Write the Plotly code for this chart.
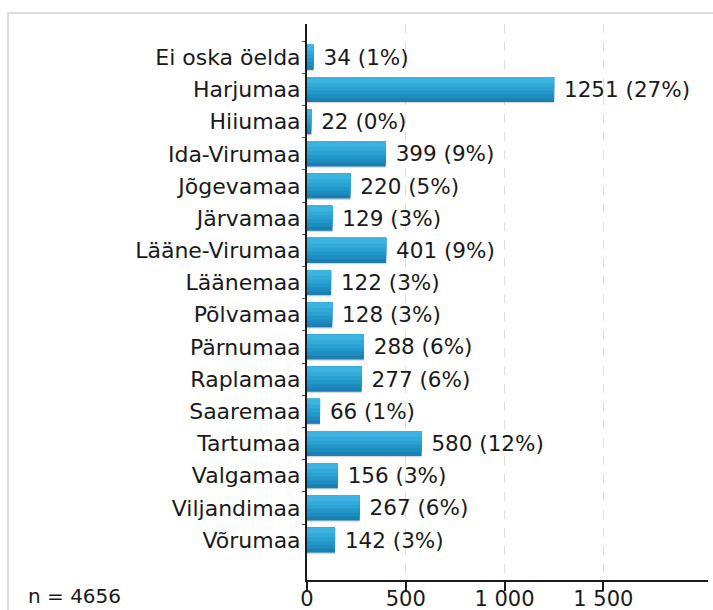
import plotly.graph_objects as go

categories = ["Ei oska öelda", "Harjumaa", "Hiiumaa", "Ida-Virumaa", "Jõgevamaa",
              "Järvamaa", "Lääne-Virumaa", "Läänemaa", "Põlvamaa", "Pärnumaa",
              "Raplamaa", "Saaremaa", "Tartumaa", "Valgamaa", "Viljandimaa", "Võrumaa"]
values = [34, 1251, 22, 399, 220, 129, 401, 122, 128, 288, 277, 66, 580, 156, 267, 142]
percents = [1, 27, 0, 9, 5, 3, 9, 3, 3, 6, 6, 1, 12, 3, 6, 3]
tick_vals = [0, 500, 1000, 1500]
tick_text = ["0", "500", "1 000", "1 500"]
n_total = 4656

FONT = "DejaVu Sans"
labels = [f" {v} ({p}%)" for v, p in zip(values, percents)]

fig = go.Figure()
# shadow
fig.add_trace(go.Bar(y=categories, x=values, orientation="h", width=0.78, offset=-0.35,
                     marker=dict(color="rgba(140,140,140,0.35)", line_width=0),
                     hoverinfo="skip", showlegend=False))
# main bar (dark base) with labels
fig.add_trace(go.Bar(y=categories, x=values, orientation="h", width=0.78, offset=-0.39,
                     marker=dict(color="#1a80b2", line_width=0),
                     text=labels, textposition="outside", cliponaxis=False,
                     textfont=dict(family=FONT, size=21.5, color="#1a1a1a"),
                     showlegend=False))
# gradient layers (lighter towards the top)
grad_widths = [0.66, 0.54, 0.42, 0.30, 0.18]
grad_colors = ["#1e8cc0", "#2397ca", "#2aa2d3", "#33abda", "#3db3e0"]
for w, c in zip(grad_widths, grad_colors):
    fig.add_trace(go.Bar(y=categories, x=values, orientation="h", width=w, offset=-0.39,
                         marker=dict(color=c, line_width=0),
                         hoverinfo="skip", showlegend=False))

plot_l, plot_r, plot_t, plot_b = 307, 708, 24, 580
W, H = 713, 610
pw, ph = plot_r - plot_l, plot_b - plot_t

def px_x(x):
    return (x - plot_l) / pw

def px_y(y):
    return (plot_b - y) / ph

fig.update_layout(
    width=W, height=H,
    margin=dict(l=plot_l, r=W - plot_r, t=plot_t, b=H - plot_b),
    paper_bgcolor="white", plot_bgcolor="white",
    barmode="overlay",
    font=dict(family=FONT, size=21.5, color="#1a1a1a"),
    xaxis=dict(range=[0, 2030], tickvals=tick_vals, ticktext=tick_text,
               showgrid=True, gridcolor="#dcdcdc", griddash="dash", gridwidth=1,
               zeroline=False, showline=True, linecolor="#1a1a1a", linewidth=2,
               ticks="outside", ticklen=9, tickcolor="#1a1a1a", tickwidth=2,
               ticklabelstandoff=-10,
               tickfont=dict(family=FONT, size=21, color="#1a1a1a"),
               automargin=False, fixedrange=True),
    yaxis=dict(type="category", categoryorder="array", categoryarray=categories,
               range=[16.24, -1.035], showgrid=False, zeroline=False,
               showline=True, linecolor="#1a1a1a", linewidth=2,
               ticks="outside", tickson="boundaries", ticklen=3, tickcolor="#555",
               tickfont=dict(family=FONT, size=22, color="#1a1a1a"),
               automargin=False, fixedrange=True),
    shapes=[dict(type="rect", xref="paper", yref="paper",
                 x0=px_x(8), x1=px_x(730), y0=px_y(640), y1=px_y(13),
                 line=dict(color="#dcdcdc", width=2), fillcolor="rgba(0,0,0,0)",
                 layer="below")],
    annotations=[dict(text=f"n = {n_total}", xref="paper", yref="paper",
                      x=px_x(26), y=px_y(596), xanchor="left", yanchor="middle",
                      showarrow=False, font=dict(family=FONT, size=20, color="#1a1a1a"))],
)

fig.write_html("out.html", config={"displayModeBar": False},
               post_script="document.body.style.margin='0';document.body.style.overflow='hidden';")
